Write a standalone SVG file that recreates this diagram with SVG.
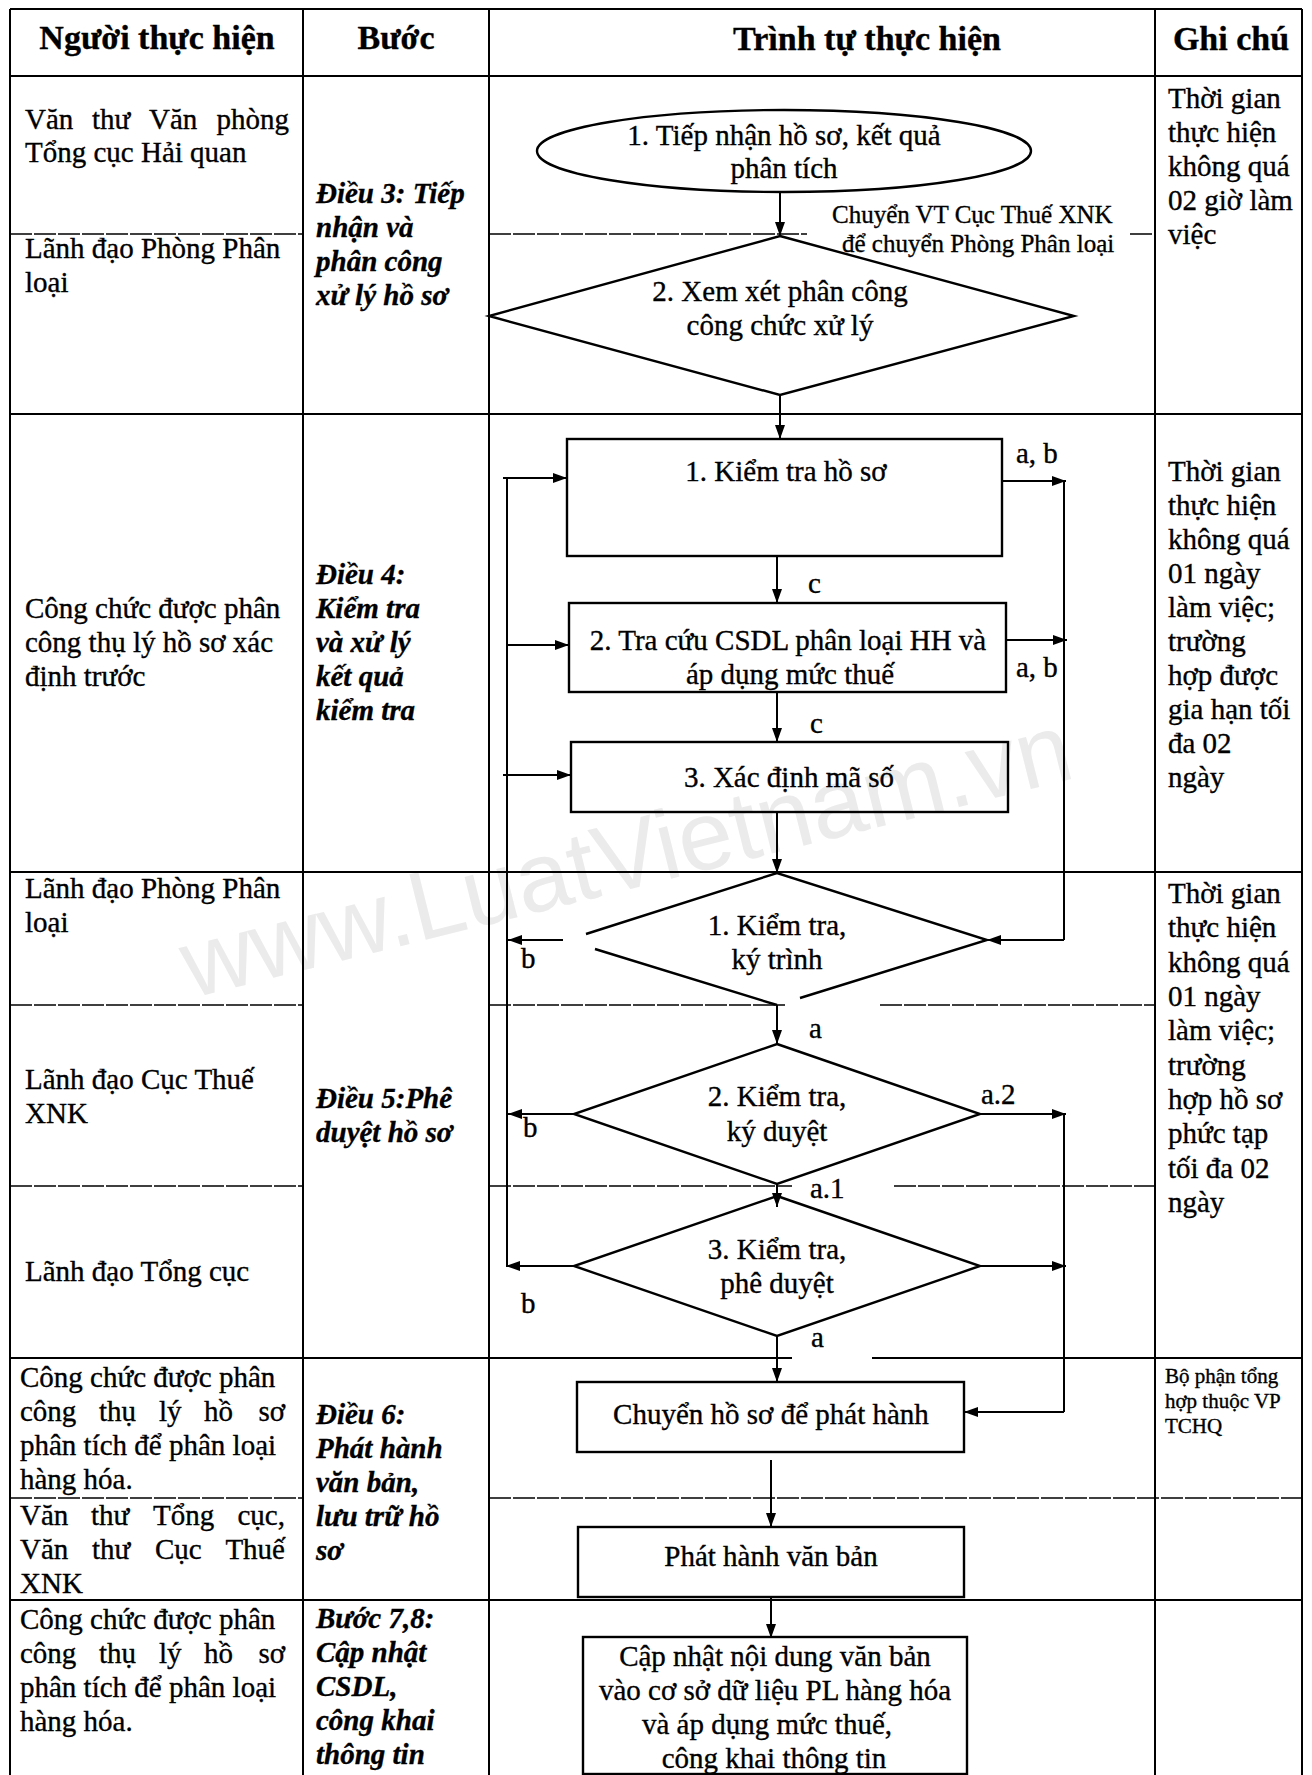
<svg xmlns="http://www.w3.org/2000/svg" width="1312" height="1775" viewBox="0 0 1312 1775">
<defs>
<marker id="ah" viewBox="0 0 14 10" refX="14" refY="5" markerWidth="14" markerHeight="10" markerUnits="userSpaceOnUse" orient="auto"><path d="M0,0 L14,5 L0,10 z" fill="#000"/></marker>
</defs>
<style>
text{font-family:"Liberation Serif","Times New Roman",serif;fill:#000;font-size:29px;stroke:#000;stroke-width:0.35px}
.hd{font-weight:bold;font-size:34px;text-anchor:middle}
.st{font-weight:bold;font-style:italic}
.c{text-anchor:middle}
.e{text-anchor:end}
.sm{font-size:25px}
.xs{font-size:21px}
.grid{stroke:#000;stroke-width:2;fill:none}
.sub{stroke:#000;stroke-width:1.3;stroke-dasharray:22 2;fill:none}
.shape{stroke:#000;stroke-width:2.4;fill:none}
.conn{stroke:#000;stroke-width:2;fill:none}
.arr{stroke:#000;stroke-width:2;fill:none;marker-end:url(#ah)}
.wm{font-family:"Liberation Sans",Arial,sans-serif;font-size:98px;fill:#ebebeb;stroke:none}
</style>
<rect x="0" y="0" width="1312" height="1775" fill="#fff"/>
<text class="wm" x="634" y="888" text-anchor="middle" transform="rotate(-14 634 888)">www.LuatVietnam.vn</text>

<g id="table">
<path class="grid" d="M10,9 H1302 M10,76 H1302 M10,414 H1302 M10,872 H1302 M10,1358 H792 M872,1358 H1302 M10,1600 H1302 M10,9 V1775 M303,9 V1775 M489,9 V1775 M1155,9 V1775 M1302,9 V1775"/>
<path class="sub" d="M10,234 H303 M489,234 H807 M1130,234 H1155 M10,1005 H303 M489,1005 H785 M880,1005 H1155 M10,1186 H303 M489,1186 H792 M894,1186 H1155 M10,1498 H303 M489,1498 H1302"/>
</g>

<g id="header">
<text class="hd" x="157" y="49">Người thực hiện</text>
<text class="hd" x="396" y="49">Bước</text>
<text class="hd" x="867" y="50">Trình tự thực hiện</text>
<text class="hd" x="1231" y="50">Ghi chú</text>
</g>

<g id="col-nguoi">
<text y="129"><tspan x="25">Văn</tspan><tspan x="92">thư</tspan><tspan x="149">Văn</tspan><tspan x="289" class="e">phòng</tspan></text>
<text x="25" y="162">Tổng cục Hải quan</text>
<text x="25" y="258">Lãnh đạo Phòng Phân</text>
<text x="25" y="292">loại</text>
<text x="25" y="618">Công chức được phân</text>
<text x="25" y="652">công thụ lý hồ sơ xác</text>
<text x="25" y="686">định trước</text>
<text x="25" y="898">Lãnh đạo Phòng Phân</text>
<text x="25" y="932">loại</text>
<text x="25" y="1089">Lãnh đạo Cục Thuế</text>
<text x="25" y="1123">XNK</text>
<text x="25" y="1281">Lãnh đạo Tổng cục</text>
<text x="20" y="1387">Công chức được phân</text>
<text y="1421"><tspan x="20">công</tspan><tspan x="99">thụ</tspan><tspan x="159">lý</tspan><tspan x="204">hồ</tspan><tspan x="285" class="e">sơ</tspan></text>
<text x="20" y="1455">phân tích để phân loại</text>
<text x="20" y="1489">hàng hóa.</text>
<text y="1525"><tspan x="20">Văn</tspan><tspan x="91">thư</tspan><tspan x="153">Tổng</tspan><tspan x="285" class="e">cục,</tspan></text>
<text y="1559"><tspan x="20">Văn</tspan><tspan x="92">thư</tspan><tspan x="155">Cục</tspan><tspan x="285" class="e">Thuế</tspan></text>
<text x="20" y="1593">XNK</text>
<text x="20" y="1629">Công chức được phân</text>
<text y="1663"><tspan x="20">công</tspan><tspan x="99">thụ</tspan><tspan x="159">lý</tspan><tspan x="204">hồ</tspan><tspan x="285" class="e">sơ</tspan></text>
<text x="20" y="1697">phân tích để phân loại</text>
<text x="20" y="1731">hàng hóa.</text>
</g>

<g id="col-buoc">
<text class="st" x="316" y="203">Điều 3: Tiếp</text>
<text class="st" x="316" y="237">nhận và</text>
<text class="st" x="316" y="271">phân công</text>
<text class="st" x="316" y="305">xử lý hồ sơ</text>
<text class="st" x="316" y="584">Điều 4:</text>
<text class="st" x="316" y="618">Kiểm tra</text>
<text class="st" x="316" y="652">và xử lý</text>
<text class="st" x="316" y="686">kết quả</text>
<text class="st" x="316" y="720">kiểm tra</text>
<text class="st" x="316" y="1108">Điều 5:Phê</text>
<text class="st" x="316" y="1142">duyệt hồ sơ</text>
<text class="st" x="316" y="1424">Điều 6:</text>
<text class="st" x="316" y="1458">Phát hành</text>
<text class="st" x="316" y="1492">văn bản,</text>
<text class="st" x="316" y="1526">lưu trữ hồ</text>
<text class="st" x="316" y="1560">sơ</text>
<text class="st" x="316" y="1628">Bước 7,8:</text>
<text class="st" x="316" y="1662">Cập nhật</text>
<text class="st" x="316" y="1696">CSDL,</text>
<text class="st" x="316" y="1730"> công khai</text>
<text class="st" x="316" y="1764">thông tin</text>
</g>

<g id="col-ghichu">
<text x="1168" y="108">Thời gian</text>
<text x="1168" y="142">thực hiện</text>
<text x="1168" y="176">không quá</text>
<text x="1168" y="210">02 giờ làm</text>
<text x="1168" y="244">việc</text>
<text x="1168" y="481">Thời gian</text>
<text x="1168" y="515">thực hiện</text>
<text x="1168" y="549">không quá</text>
<text x="1168" y="583">01 ngày</text>
<text x="1168" y="617">làm việc;</text>
<text x="1168" y="651">trường</text>
<text x="1168" y="685">hợp được</text>
<text x="1168" y="719">gia hạn tối</text>
<text x="1168" y="753">đa 02</text>
<text x="1168" y="787">ngày</text>
<text x="1168" y="903">Thời gian</text>
<text x="1168" y="937">thực hiện</text>
<text x="1168" y="972">không quá</text>
<text x="1168" y="1006">01 ngày</text>
<text x="1168" y="1040">làm việc;</text>
<text x="1168" y="1075">trường</text>
<text x="1168" y="1109">hợp hồ sơ</text>
<text x="1168" y="1143">phức tạp</text>
<text x="1168" y="1178">tối đa 02</text>
<text x="1168" y="1212">ngày</text>
<text class="xs" x="1165" y="1383">Bộ phận tổng</text>
<text class="xs" x="1165" y="1408">hợp thuộc VP</text>
<text class="xs" x="1165" y="1433">TCHQ</text>
</g>

<g id="n-tiepnhan">
<ellipse class="shape" cx="784" cy="151" rx="247" ry="41"/>
<text class="c" x="784" y="145">1. Tiếp nhận hồ sơ, kết quả</text>
<text class="c" x="784" y="178">phân tích</text>
</g>
<g id="n-xemxet">
<polygon class="shape" points="780,236 1074,316 780,395 489,316"/>
<text class="c" x="780" y="301">2. Xem xét phân công</text>
<text class="c" x="780" y="335">công chức xử lý</text>
</g>
<g id="n-kiemtra-hoso">
<rect class="shape" x="567" y="439" width="435" height="117"/>
<text class="c" x="786" y="481">1. Kiểm tra hồ sơ</text>
</g>
<g id="n-tracuu">
<rect class="shape" x="569" y="603" width="437" height="89"/>
<text class="c" x="788" y="650">2. Tra cứu CSDL phân loại HH và</text>
<text class="c" x="790" y="684">áp dụng mức thuế</text>
</g>
<g id="n-xacdinh">
<rect class="shape" x="571" y="742" width="437" height="70"/>
<text class="c" x="789" y="787">3. Xác định mã số</text>
</g>
<g id="n-kytrinh">
<path class="shape" d="M586,934 L777,873 L987,940 L800,998 M777,1005 L595,949"/>
<text class="c" x="777" y="935">1. Kiểm tra,</text>
<text class="c" x="777" y="969">ký trình</text>
</g>
<g id="n-kyduyet">
<polygon class="shape" points="777,1044 980,1114 777,1184 574,1114"/>
<text class="c" x="777" y="1106">2. Kiểm tra,</text>
<text class="c" x="777" y="1141">ký duyệt</text>
</g>
<g id="n-pheduyet">
<polygon class="shape" points="777,1196 980,1266 777,1336 574,1266"/>
<text class="c" x="777" y="1259">3. Kiểm tra,</text>
<text class="c" x="777" y="1293">phê duyệt</text>
</g>
<g id="n-chuyen">
<rect class="shape" x="577" y="1382" width="387" height="70"/>
<text class="c" x="771" y="1424">Chuyển hồ sơ để phát hành</text>
</g>
<g id="n-phathanh">
<rect class="shape" x="578" y="1527" width="386" height="70"/>
<text class="c" x="771" y="1566">Phát hành văn bản</text>
</g>
<g id="n-capnhat">
<rect class="shape" x="583" y="1637" width="384" height="137"/>
<text class="c" x="775" y="1666">Cập nhật nội dung văn bản</text>
<text class="c" x="775" y="1700">vào cơ sở dữ liệu PL hàng hóa</text>
<text class="c" x="767" y="1734">và áp dụng mức thuế,</text>
<text class="c" x="774" y="1768">công khai thông tin</text>
</g>

<g id="connectors">
<path class="arr" d="M780,192 V236"/>
<path class="arr" d="M780,395 V439"/>
<path class="arr" d="M777,556 V603"/>
<path class="arr" d="M777,692 V742"/>
<path class="arr" d="M777,812 V873"/>
<path class="arr" d="M777,1005 V1044"/>
<path class="arr" d="M777,1184 V1207"/>
<path class="arr" d="M777,1336 V1382"/>
<path class="arr" d="M771,1460 V1527"/>
<path class="arr" d="M771,1597 V1638"/>
<path class="arr" d="M1002,481 H1066"/>
<path class="arr" d="M1006,640 H1067"/>
<path class="conn" d="M1064,481 V940"/>
<path class="arr" d="M1064,940 H987"/>
<path class="arr" d="M980,1114 H1066"/>
<path class="arr" d="M980,1266 H1066"/>
<path class="conn" d="M1064,1114 V1412"/>
<path class="arr" d="M1064,1412 H964"/>
<path class="conn" d="M507,478 V1266"/>
<path class="arr" d="M503,478 H567"/>
<path class="arr" d="M507,645 H569"/>
<path class="arr" d="M503,775 H571"/>
<path class="arr" d="M563,940 H508"/>
<path class="arr" d="M574,1114 H508"/>
<path class="arr" d="M574,1266 H506"/>
<text class="sm" x="832" y="223">Chuyển VT Cục Thuế XNK</text>
<text class="sm" x="842" y="252">để chuyển Phòng Phân loại</text>
<text x="1016" y="463">a, b</text>
<text x="808" y="593">c</text>
<text x="1016" y="677">a, b</text>
<text x="810" y="733">c</text>
<text x="521" y="968">b</text>
<text x="809" y="1038">a</text>
<text x="981" y="1104">a.2</text>
<text x="523" y="1137">b</text>
<text x="810" y="1198">a.1</text>
<text x="521" y="1313">b</text>
<text x="811" y="1347">a</text>
</g>
</svg>
